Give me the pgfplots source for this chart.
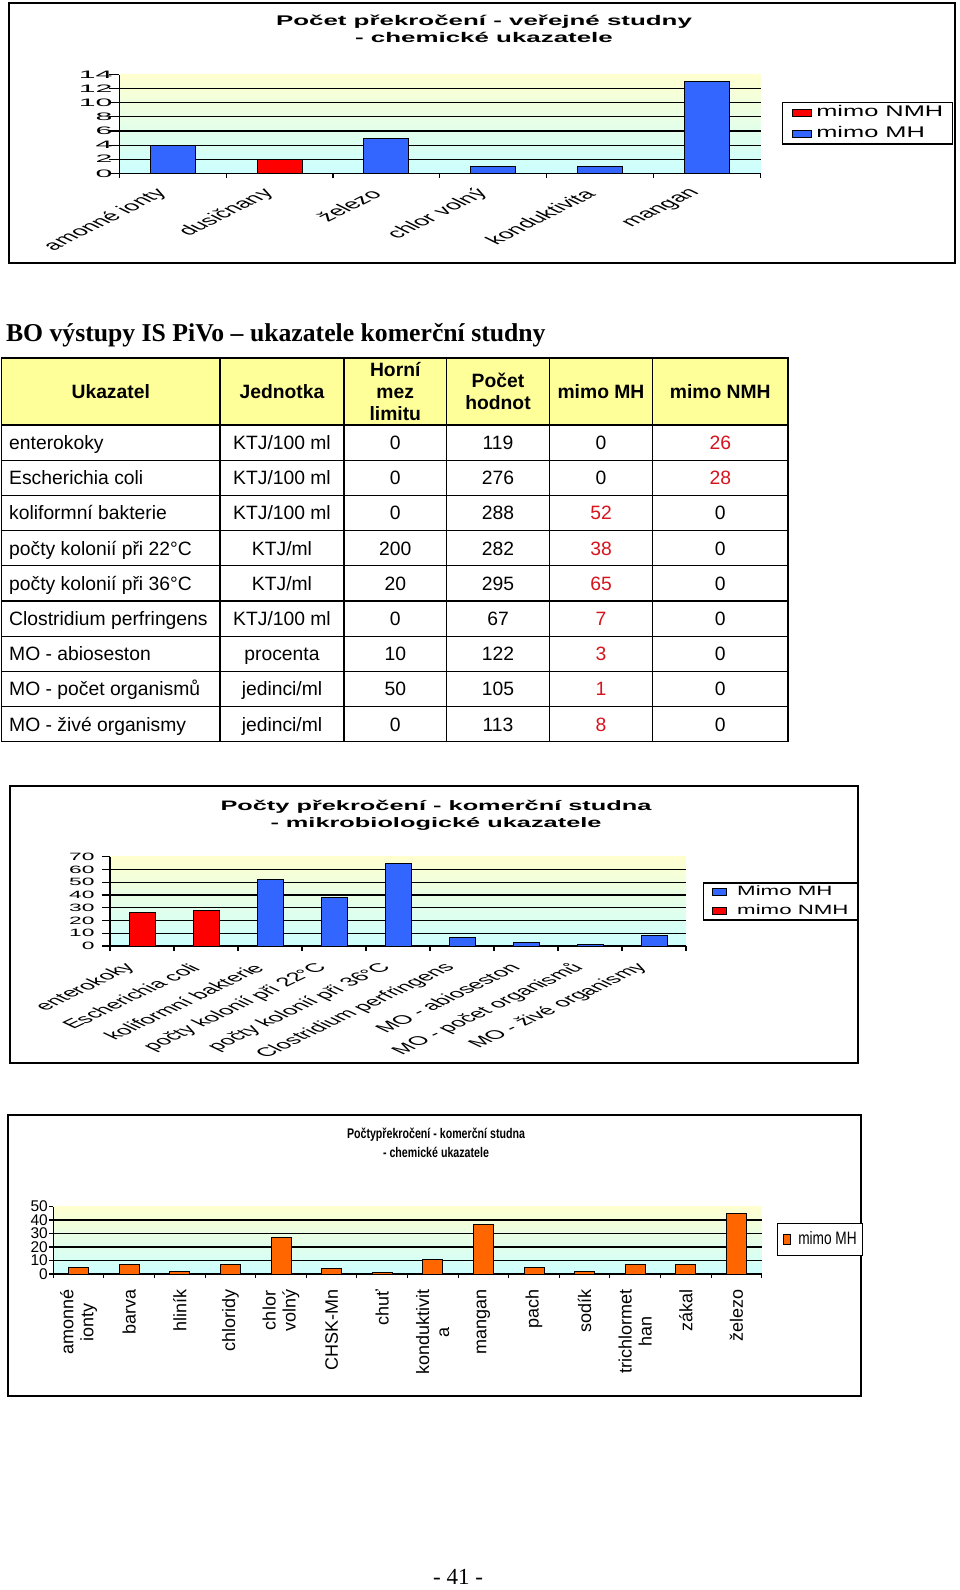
\documentclass[border=0pt]{standalone}
\usepackage{fontspec}
\setmainfont{Liberation Sans}
\newfontfamily\serifbo{Liberation Serif}
\newfontfamily\fsW[FakeStretch=1.85]{Liberation Sans}
\newfontfamily\fsL[FakeStretch=1.65]{Liberation Sans}
\newfontfamily\fsYa[FakeStretch=2.8]{Liberation Sans}
\newfontfamily\fsYb[FakeStretch=2.15]{Liberation Sans}
\newfontfamily\fsN[FakeStretch=0.76]{Liberation Sans}
\usepackage{pgfplots}
\pgfplotsset{compat=1.18}

\definecolor{barblue}{RGB}{51,102,255}
\definecolor{barred}{RGB}{255,0,0}
\definecolor{barorange}{RGB}{255,102,0}
\definecolor{bgtop}{RGB}{255,255,208}
\definecolor{bgbot}{RGB}{204,255,255}
\definecolor{hdr}{RGB}{255,255,153}
\definecolor{txtred}{RGB}{215,20,30}

\newcommand\fsz[2]{\fontsize{#1}{#2}\selectfont}

\pgfplotsset{
  xls/.style={
    scale only axis, ybar stacked, enlargelimits=false, ymin=0,
    axis lines*=left, tick align=outside, tick pos=left,
    x tick label as interval,
    ymajorgrids, major grid style={black, line width=1.1pt},
    axis line style={black, line width=1.1pt},
    tick style={black, line width=1.1pt},
    axis background/.style={top color=bgtop, bottom color=bgbot},
    /pgf/number format/assume math mode=true,
    yticklabel style={anchor=east, inner sep=0pt},
    legend cell align=left,
  },
  sqA/.style={legend image code/.code={\draw[##1,line width=0.8pt] (0pt,-3.5pt) rectangle (19pt,3.5pt); \path (23.3pt,0pt);}},
  sqB/.style={legend image code/.code={\draw[##1,line width=0.8pt] (0pt,-3.6pt) rectangle (14pt,3.6pt); \path (24pt,0pt);}},
  sqC/.style={legend image code/.code={\draw[##1,line width=0.8pt] (0pt,-5pt) rectangle (6.3pt,5pt); \path (14pt,0pt);}},
}

\newcommand\trow[7]{%
  \node[anchor=base west] at (9,-#1-6.9) {#2};
  \node[anchor=base] at (282,-#1-6.9) {#3};
  \node[anchor=base] at (395.25,-#1-6.9) {#4};
  \node[anchor=base] at (498,-#1-6.9) {#5};
  \node[anchor=base] at (601,-#1-6.9) {#6};
  \node[anchor=base] at (720.25,-#1-6.9) {#7};
}

\begin{document}
\begin{tikzpicture}[x=1pt,y=1pt]
\path[fill=white, use as bounding box] (0,0) rectangle (960,-1590);

% ---------------- chart 1: verejne studny
\draw[line width=1.3pt] (9,-3) rectangle (955,-263);
\node[align=center, font=\fsW\bfseries\fsz{14}{17}] at (484,-29) {Počet překročení - veřejné studny\\- chemické ukazatele};
\begin{axis}[xls, at={(119.3pt,-173.3pt)}, anchor=south west,
  width=641.2pt, height=98.7pt,
  xmin=0.5, xmax=6.5, ymax=14,
  ytick={0,2,...,12}, extra y ticks={14}, extra y tick style={grid=none},
  xtick={0.5,1.5,...,6.5},
  xticklabels={amonné ionty, dusičnany, železo, chlor volný, konduktivita, mangan},
  xtick style={/pgfplots/major tick length=5pt},
  ytick style={/pgfplots/major tick length=10pt},
  bar width=45pt,
  yticklabel style={font=\fsYa\fsz{10.8}{12}, xshift=-2.3pt},
  xticklabel style={font=\fsz{13.4}{15}, anchor=east, inner sep=0pt, xshift=-10pt, yshift=-14pt, xscale=2, rotate=45},
  legend style={at={(1.0335,0.7254)}, anchor=north west, draw=black, line width=1.2pt, fill=white,
    font=\fsL\fsz{15.4}{18}, inner xsep=9.5pt, inner ysep=3pt, row sep=7pt,
    nodes={inner sep=0pt, text height=11pt, text depth=3.3pt}},
]
\addplot[fill=barred, draw=black, line width=1pt, sqA] coordinates {(1,0) (2,2) (3,0) (4,0) (5,0) (6,0)};
\addplot[fill=barblue, draw=black, line width=1pt, sqA] coordinates {(1,4) (2,0) (3,5) (4,1) (5,1) (6,13)};
\legend{mimo NMH, mimo MH}
\end{axis}

% ---------------- table
\node[anchor=base west, font=\serifbo\bfseries\fsz{25.7}{30}] at (2.5,-341) {BO výstupy IS PiVo – ukazatele komerční studny};
\fill[hdr] (1.5,-358) rectangle (788,-425);
\begin{scope}[line width=1.3pt]
\draw (1.5,-358) rectangle (788,-741.8);
\foreach \k in {0,...,8} \draw (1.5,-425-35.2*\k) -- (788,-425-35.2*\k);
\foreach \cx in {220,344,446.5,549.5,652.5} \draw (\cx,-358) -- (\cx,-741.8);
\end{scope}
\begin{scope}[every node/.style={font=\fsz{19.3}{22}, inner sep=0pt}]
\node[font=\bfseries\fsz{19.3}{22}] at (110.75,-391.5) {Ukazatel};
\node[font=\bfseries\fsz{19.3}{22}] at (282,-391.5) {Jednotka};
\node[font=\bfseries\fsz{19.3}{21.7}, align=center] at (395.25,-391.5) {Horní\\mez\\limitu};
\node[font=\bfseries\fsz{19.3}{22.7}, align=center] at (498,-391.5) {Počet\\hodnot};
\node[font=\bfseries\fsz{19.3}{22}] at (601,-391.5) {mimo MH};
\node[font=\bfseries\fsz{19.3}{22}] at (720.25,-391.5) {mimo NMH};
\trow{442.6}{enterokoky}{KTJ/100 ml}{0}{119}{0}{\textcolor{txtred}{26}}
\trow{477.8}{Escherichia coli}{KTJ/100 ml}{0}{276}{0}{\textcolor{txtred}{28}}
\trow{513.0}{koliformní bakterie}{KTJ/100 ml}{0}{288}{\textcolor{txtred}{52}}{0}
\trow{548.2}{počty kolonií při 22°C}{KTJ/ml}{200}{282}{\textcolor{txtred}{38}}{0}
\trow{583.4}{počty kolonií při 36°C}{KTJ/ml}{20}{295}{\textcolor{txtred}{65}}{0}
\trow{618.6}{Clostridium perfringens}{KTJ/100 ml}{0}{67}{\textcolor{txtred}{7}}{0}
\trow{653.8}{MO - abioseston}{procenta}{10}{122}{\textcolor{txtred}{3}}{0}
\trow{689.0}{MO - počet organismů}{jedinci/ml}{50}{105}{\textcolor{txtred}{1}}{0}
\trow{724.2}{MO - živé organismy}{jedinci/ml}{0}{113}{\textcolor{txtred}{8}}{0}
\end{scope}

% ---------------- chart 2: komercni studna mikrobiologicke
\draw[line width=1.3pt] (10,-786) rectangle (858,-1063);
\node[align=center, font=\fsW\bfseries\fsz{13.7}{17}] at (436,-815.5) {Počty překročení - komerční studna\\- mikrobiologické ukazatele};
\begin{axis}[xls, at={(110pt,-946pt)}, anchor=south west,
  width=576pt, height=89.3pt,
  xmin=0.5, xmax=9.5, ymax=70,
  ytick={0,10,...,60}, extra y ticks={70}, extra y tick style={grid=none},
  xtick={0.5,1.5,...,9.5},
  xticklabels={enterokoky, Escherichia coli, koliformní bakterie, počty kolonií při 22°C, počty kolonií při 36°C, Clostridium perfringens, MO - abioseston, MO - počet organismů, MO - živé organismy},
  xtick style={/pgfplots/major tick length=5pt},
  ytick style={/pgfplots/major tick length=8.3pt},
  bar width=26pt,
  yticklabel style={font=\fsYb\fsz{10.6}{12}, xshift=-11pt},
  xticklabel style={font=\fsz{12.4}{14}, anchor=east, inner sep=0pt, xshift=-11pt, yshift=-15.5pt, xscale=2.1, rotate=45},
  legend style={at={(1.029,0.7133)}, anchor=north west, draw=black, line width=1.2pt, fill=white,
    font=\fsL\fsz{13.5}{16}, inner xsep=9pt, inner ysep=2.85pt, row sep=6.1pt,
    nodes={inner sep=0pt, text height=9.7pt, text depth=2.9pt}},
]
\addplot[fill=barblue, draw=black, line width=1pt, sqB] coordinates {(1,0) (2,0) (3,52) (4,38) (5,65) (6,7) (7,3) (8,1) (9,8)};
\addplot[fill=barred, draw=black, line width=1pt, sqB] coordinates {(1,26) (2,28) (3,0) (4,0) (5,0) (6,0) (7,0) (8,0) (9,0)};
\legend{Mimo MH, mimo NMH}
\end{axis}

% ---------------- chart 3: komercni studna chemicke
\draw[line width=1.3pt] (8,-1115) rectangle (861,-1396);
\node[align=center, font=\fsN\bfseries\fsz{14}{19}] at (436,-1142.5) {Počtypřekročení - komerční studna\\- chemické ukazatele};
\begin{axis}[xls, at={(53.3pt,-1274pt)}, anchor=south west,
  width=708.4pt, height=67.5pt,
  xmin=0.5, xmax=14.5, ymax=50,
  ytick={0,10,...,40}, extra y ticks={50}, extra y tick style={grid=none},
  xtick={0.5,1.5,...,14.5},
  xticklabels={{amonné\\ionty}, barva, hliník, chloridy, {chlor\\volný}, CHSK-Mn, chuť, {konduktivit\\a}, mangan, pach, sodík, {trichlormet\\han}, zákal, železo},
  xtick style={/pgfplots/major tick length=4pt},
  ytick style={/pgfplots/major tick length=4pt},
  bar width=20pt,
  yticklabel style={font=\fsz{15.5}{15}, xshift=-1pt},
  xticklabel style={font=\fsz{18}{20}, align=center, anchor=east, inner sep=0pt, yshift=-11pt, rotate=90},
  legend style={at={(1.0212,0.76)}, anchor=north west, draw=black, line width=1.3pt, fill=white,
    font=\fsN\fsz{18}{20}, inner xsep=6pt, inner ysep=7.7pt,
    nodes={inner sep=0pt, text height=13pt, text depth=3.8pt}},
]
\addplot[fill=barorange, draw=black, line width=1pt, sqC] coordinates {(1,5) (2,7) (3,2) (4,7) (5,27) (6,4) (7,1) (8,11) (9,37) (10,5) (11,2) (12,7) (13,7) (14,45)};
\legend{mimo MH}
\end{axis}

\node[anchor=base, font=\serifbo\fsz{23}{26}] at (458,-1584) {- 41 -};
\end{tikzpicture}
\end{document}
